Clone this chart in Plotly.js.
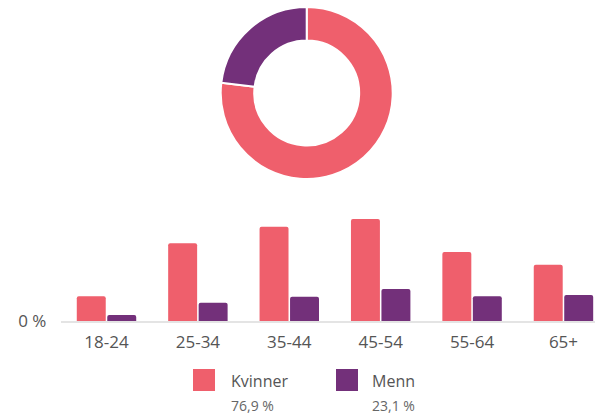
<!DOCTYPE html>
<html>
<head>
<meta charset="utf-8">
<script src="https://cdn.plot.ly/plotly-3.0.1.min.js"></script>
<style>html,body{margin:0;padding:0;background:#fff;}#chart{width:595px;height:416px;}</style>
</head>
<body>
<div id="chart"></div>
<script>
var ageGroups = ['18-24', '25-34', '35-44', '45-54', '55-64', '65+'];
var kvinner = [4.5, 14.1, 17.1, 18.5, 12.5, 10.2];
var menn = [1.1, 3.3, 4.4, 5.8, 4.5, 4.7];
var genderLabels = ['Kvinner', 'Menn'];
var genderShares = [76.9, 23.1];
var colors = ['#EF5F6C', '#73307A'];

var W = 595, H = 416;
function px(x) { return x / W; }
function py(y) { return 1 - y / H; }

var traces = [
  {
    type: 'pie', labels: genderLabels, values: genderShares,
    hole: 0.61, sort: false, direction: 'clockwise', rotation: 0,
    textinfo: 'none', hoverinfo: 'none', showlegend: false,
    marker: {colors: colors, line: {color: '#ffffff', width: 2}},
    domain: {x: [px(220.7), px(392.7)], y: [py(180), py(6)]}
  },
  {
    type: 'bar', name: genderLabels[0], x: ageGroups, y: kvinner,
    marker: {color: colors[0]}, hoverinfo: 'none', showlegend: false
  },
  {
    type: 'bar', name: genderLabels[1], x: ageGroups, y: menn,
    marker: {color: colors[1]}, hoverinfo: 'none', showlegend: false
  }
];

function fmt(v) { return v.toFixed(1).replace('.', ',') + ' %'; }

var legendItems = [
  {sq: 193, text: 229},
  {sq: 336, text: 370}
];
var shapes = [], annotations = [];
legendItems.forEach(function (it, i) {
  shapes.push({type: 'rect', xref: 'paper', yref: 'paper',
    x0: px(it.sq), x1: px(it.sq + 22), y0: py(391), y1: py(369),
    fillcolor: colors[i], line: {width: 0}});
  annotations.push({xref: 'paper', yref: 'paper', x: px(it.text), y: py(381),
    xanchor: 'left', yanchor: 'middle', showarrow: false, text: genderLabels[i],
    font: {size: 16, color: '#555555'}});
  annotations.push({xref: 'paper', yref: 'paper', x: px(it.text), y: py(405),
    xanchor: 'left', yanchor: 'middle', showarrow: false, text: fmt(genderShares[i]),
    font: {size: 14, color: '#666666'}});
});

var layout = {
  width: W, height: H,
  margin: {l: 0, r: 0, t: 0, b: 0},
  paper_bgcolor: '#ffffff', plot_bgcolor: '#ffffff',
  font: {family: 'Open Sans, sans-serif', color: '#555555'},
  showlegend: false,
  barmode: 'group', bargap: 0.333, bargroupgap: 0.05, barcornerradius: 2,
  xaxis: {
    type: 'category', categoryorder: 'array', categoryarray: ageGroups,
    range: [-0.5, 5.345], domain: [px(60.8), 1],
    showline: true, linecolor: '#e4e4e4', linewidth: 2,
    ticks: 'outside', ticklen: 5, tickcolor: 'rgba(0,0,0,0)',
    tickfont: {size: 17, color: '#555555'}, showgrid: false, fixedrange: true
  },
  yaxis: {
    range: [0, 22], domain: [py(321), py(199.7)],
    tickvals: [0], ticktext: ['0 %'],
    ticks: 'outside', ticklen: 10, tickcolor: 'rgba(0,0,0,0)',
    tickfont: {size: 17, color: '#555555'},
    showgrid: false, zeroline: false, showline: false, fixedrange: true
  },
  shapes: shapes,
  annotations: annotations
};

Plotly.newPlot('chart', traces, layout, {displayModeBar: false, staticPlot: true});
</script>
</body>
</html>
